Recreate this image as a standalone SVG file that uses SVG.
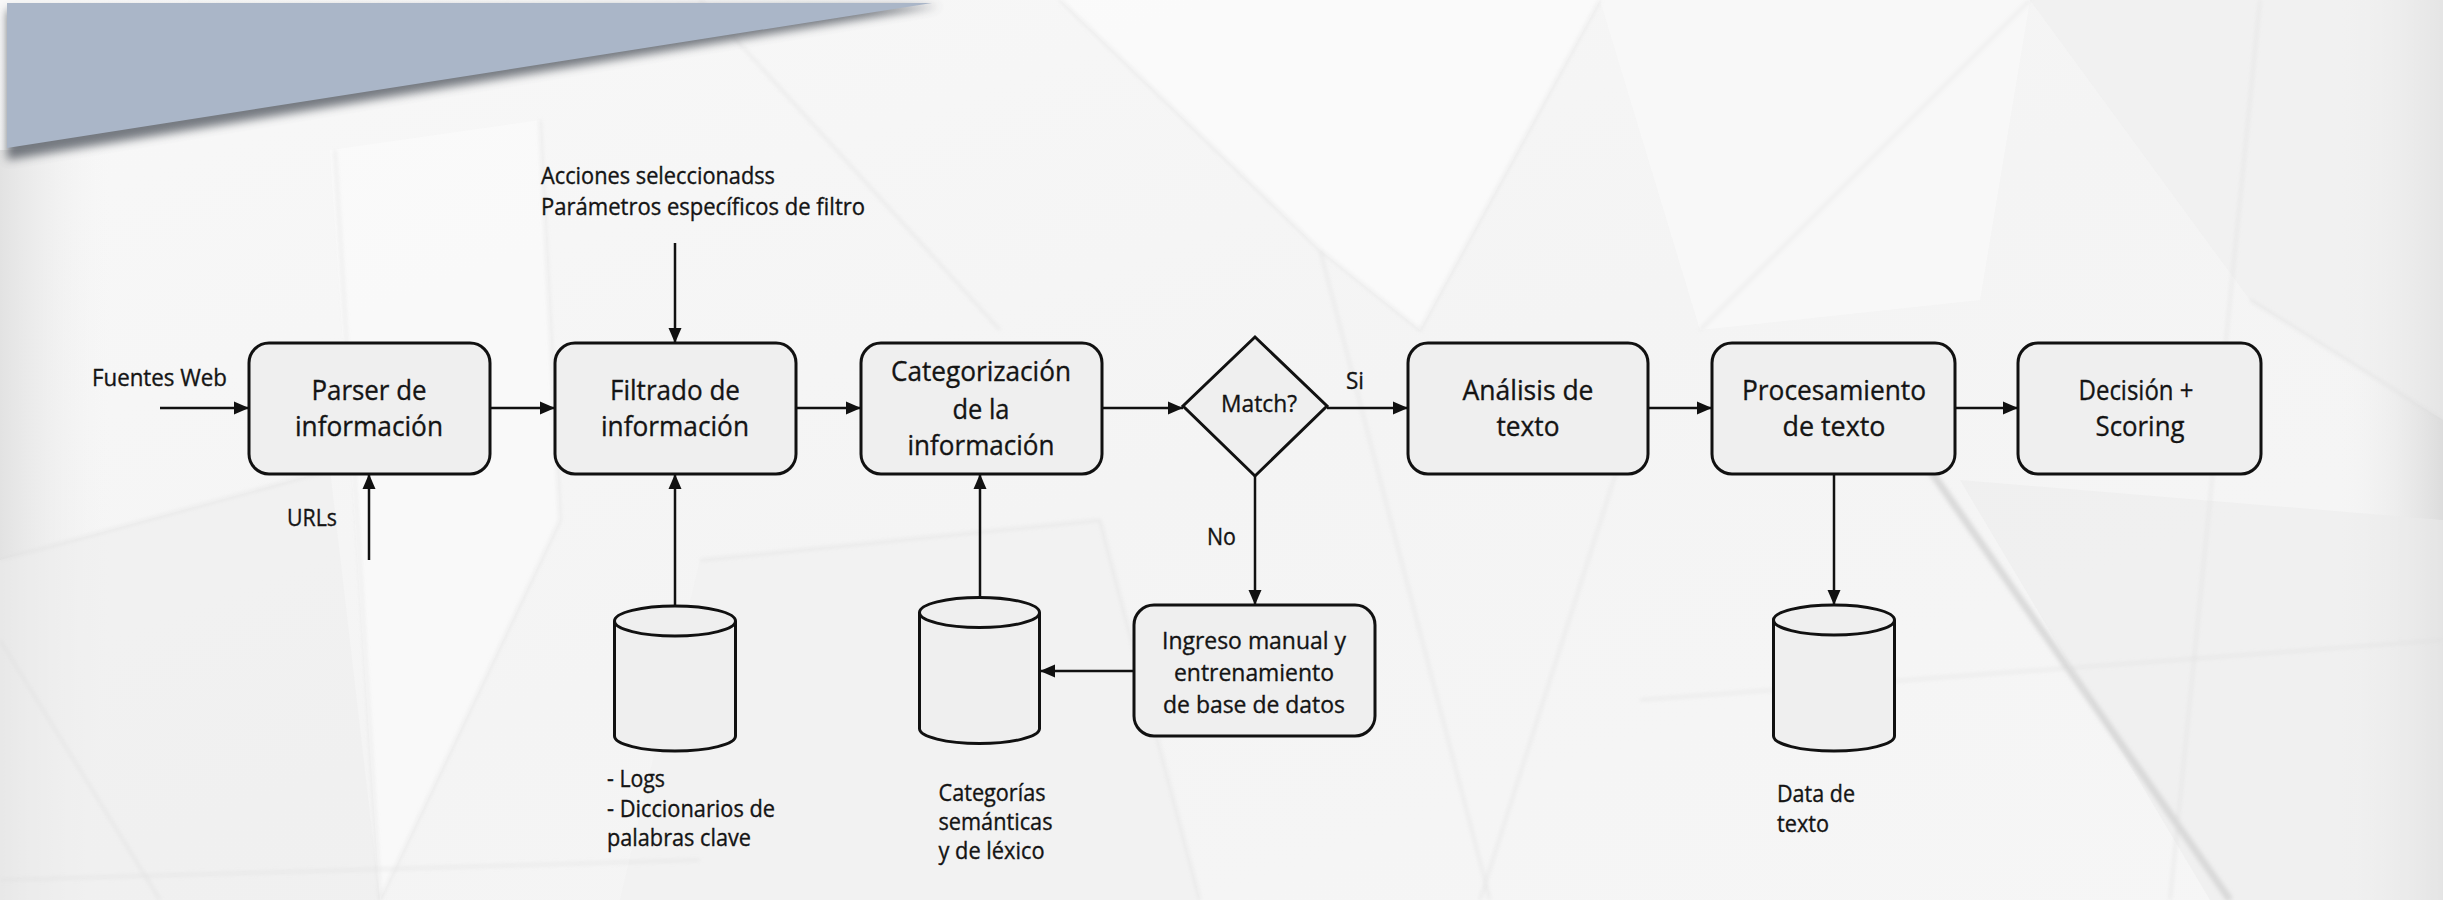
<svg xmlns="http://www.w3.org/2000/svg" width="2443" height="900" viewBox="0 0 2443 900">
  <defs>
    <style>
      text { font-family: "Open Sans", Lato, "Liberation Sans", sans-serif; fill: #141414; stroke: #141414; stroke-width: 0.35; }
      .box { fill: #efefef; stroke: #111; stroke-width: 3; }
      .t { font-size: 28px; text-anchor: middle; }
      .l { font-size: 23px; }
      .c { stroke: #111; stroke-width: 2.5; fill: none; marker-end: url(#ah); }
      .facet { fill: none; stroke: #dcdcdc; stroke-width: 1.5; }
    </style>
    <marker id="ah" viewBox="0 0 15 14" refX="15" refY="7" markerWidth="15" markerHeight="14" markerUnits="userSpaceOnUse" orient="auto">
      <path d="M0,0.5 L15,7 L0,13.5 z" fill="#111"/>
    </marker>
    <linearGradient id="bgGrad" x1="0" y1="0" x2="1" y2="1">
      <stop offset="0" stop-color="#f8f8f8"/>
      <stop offset="0.5" stop-color="#f4f4f4"/>
      <stop offset="1" stop-color="#f6f6f6"/>
    </linearGradient>
    <linearGradient id="leftShade" x1="0" y1="0" x2="1" y2="0">
      <stop offset="0" stop-color="#e2e2e2"/>
      <stop offset="1" stop-color="#f3f3f3" stop-opacity="0"/>
    </linearGradient>
    <linearGradient id="rightShade" x1="0" y1="0" x2="1" y2="0">
      <stop offset="0" stop-color="#f3f3f3" stop-opacity="0"/>
      <stop offset="1" stop-color="#dcdcdc"/>
    </linearGradient>
    <filter id="blur6" x="-10%" y="-10%" width="120%" height="140%">
      <feGaussianBlur stdDeviation="5"/>
    </filter>
    <filter id="blur2" x="-10%" y="-10%" width="120%" height="120%">
      <feGaussianBlur stdDeviation="2"/>
    </filter>
  </defs>

  <!-- faceted backdrop -->
  <g id="background">
    <rect x="0" y="0" width="2443" height="900" fill="url(#bgGrad)"/>
    <rect x="0" y="150" width="110" height="750" fill="url(#leftShade)"/>
    <rect x="2340" y="0" width="103" height="900" fill="url(#rightShade)"/>
    <polygon points="0,560 330,470 380,900 0,900" fill="#ececec" opacity="0.55"/>
    <polygon points="330,150 540,120 560,520 380,900 360,600" fill="#fafafa" opacity="0.8"/>
    <polygon points="1060,0 1600,0 1420,330 1320,250" fill="#fbfbfb" opacity="0.8"/>
    <polygon points="1960,480 2443,520 2443,900 2210,900" fill="#ebebeb" opacity="0.55"/>
    <polygon points="1600,0 2030,0 1980,300 1700,330" fill="#f9f9f9" opacity="0.8"/>
    <polygon points="2030,0 2443,0 2443,420 2250,300" fill="#eeeeee" opacity="0.5"/>
    <polygon points="700,560 1100,520 1200,900 620,900" fill="#f0f0f0" opacity="0.5"/>
    <g filter="url(#blur2)" opacity="0.85">
      <path class="facet" d="M335,150 L380,900"/>
      <path class="facet" d="M540,120 L560,520 L380,900"/>
      <path class="facet" d="M0,560 L330,470"/>
      <path class="facet" d="M0,640 L160,900"/>
      <path class="facet" d="M700,0 L1000,330"/>
      <path class="facet" d="M1060,0 L1320,250 L1420,330 L1600,0"/>
      <path class="facet" d="M1320,250 L1490,900"/>
      <path class="facet" d="M1620,460 L1480,900"/>
      <path class="facet" d="M1700,330 L2030,0"/>
      <path class="facet" d="M2250,300 L2443,420"/>
      <path class="facet" d="M2260,0 L2170,900"/>
      <path class="facet" d="M1640,700 L2443,640"/>
      <path class="facet" d="M0,880 L700,860"/>
      <path class="facet" d="M1100,520 L1200,900"/>
      <path class="facet" d="M700,560 L1100,520"/>
      <path d="M1930,470 L2230,900" stroke="#d4d4d4" stroke-width="7" fill="none"/>
    </g>
  </g>

  <!-- slanted banner in the top-left corner -->
  <g id="banner">
    <polygon points="7,10 940,6 7,160" fill="#4a4f58" opacity="0.75" filter="url(#blur6)"/>
    <polygon points="7,3 932,3 7,148" fill="#aab6c8"/>
  </g>

  <!-- connectors -->
  <g id="connectors">
    <path class="c" d="M160,408 H249"/>
    <path class="c" d="M369,560 V474"/>
    <path class="c" d="M490,408 H555"/>
    <path class="c" d="M675,243 V343"/>
    <path class="c" d="M675,606 V474"/>
    <path class="c" d="M796,408 H861"/>
    <path class="c" d="M980,598 V474"/>
    <path class="c" d="M1102,408 H1183"/>
    <path class="c" d="M1327,408 H1408"/>
    <path class="c" d="M1255,476 V605"/>
    <path class="c" d="M1134,671 H1040"/>
    <path class="c" d="M1648,408 H1712"/>
    <path class="c" d="M1955,408 H2018"/>
    <path class="c" d="M1834,474 V605"/>
  </g>

  <!-- edge labels and inputs -->
  <g id="labels">
    <text class="l" x="92" y="386" textLength="135" lengthAdjust="spacingAndGlyphs">Fuentes Web</text>
    <text class="l" x="287" y="526" textLength="50" lengthAdjust="spacingAndGlyphs">URLs</text>
    <text class="l" x="541" y="184" textLength="234" lengthAdjust="spacingAndGlyphs">Acciones seleccionadss</text>
    <text class="l" x="541" y="215" textLength="324" lengthAdjust="spacingAndGlyphs">Parámetros específicos de filtro</text>
    <text class="l" x="1346" y="389" textLength="18" lengthAdjust="spacingAndGlyphs">Si</text>
    <text class="l" x="1207" y="545" textLength="29" lengthAdjust="spacingAndGlyphs">No</text>
  </g>

  <g id="parser">
    <rect class="box" x="249" y="343" width="241" height="131" rx="20"/>
    <text class="t" x="369" y="400" textLength="115" lengthAdjust="spacingAndGlyphs">Parser de</text>
    <text class="t" x="369" y="436" textLength="148" lengthAdjust="spacingAndGlyphs">información</text>
  </g>

  <g id="filtrado">
    <rect class="box" x="555" y="343" width="241" height="131" rx="20"/>
    <text class="t" x="675" y="400" textLength="130" lengthAdjust="spacingAndGlyphs">Filtrado de</text>
    <text class="t" x="675" y="436" textLength="148" lengthAdjust="spacingAndGlyphs">información</text>
  </g>

  <g id="categorizacion">
    <rect class="box" x="861" y="343" width="241" height="131" rx="20"/>
    <text class="t" x="981" y="381" textLength="180" lengthAdjust="spacingAndGlyphs">Categorización</text>
    <text class="t" x="981" y="419" textLength="57" lengthAdjust="spacingAndGlyphs">de la</text>
    <text class="t" x="981" y="455" textLength="147" lengthAdjust="spacingAndGlyphs">información</text>
  </g>

  <g id="match">
    <polygon class="box" points="1255,337 1327,406 1255,476 1183,406"/>
    <text class="t" x="1259" y="412" style="font-size:24px" textLength="76" lengthAdjust="spacingAndGlyphs">Match?</text>
  </g>

  <g id="analisis">
    <rect class="box" x="1408" y="343" width="240" height="131" rx="20"/>
    <text class="t" x="1528" y="400" textLength="131" lengthAdjust="spacingAndGlyphs">Análisis de</text>
    <text class="t" x="1528" y="436" textLength="63" lengthAdjust="spacingAndGlyphs">texto</text>
  </g>

  <g id="procesamiento">
    <rect class="box" x="1712" y="343" width="243" height="131" rx="20"/>
    <text class="t" x="1834" y="400" textLength="184" lengthAdjust="spacingAndGlyphs">Procesamiento</text>
    <text class="t" x="1834" y="436" textLength="103" lengthAdjust="spacingAndGlyphs">de texto</text>
  </g>

  <g id="decision">
    <rect class="box" x="2018" y="343" width="243" height="131" rx="20"/>
    <text class="t" x="2136" y="400" textLength="115" lengthAdjust="spacingAndGlyphs">Decisión +</text>
    <text class="t" x="2140" y="436" textLength="89" lengthAdjust="spacingAndGlyphs">Scoring</text>
  </g>

  <g id="ingreso">
    <rect class="box" x="1134" y="605" width="241" height="131" rx="20"/>
    <text class="t" x="1254" y="649" style="font-size:24px" textLength="184" lengthAdjust="spacingAndGlyphs">Ingreso manual y</text>
    <text class="t" x="1254" y="681" style="font-size:24px" textLength="160" lengthAdjust="spacingAndGlyphs">entrenamiento</text>
    <text class="t" x="1254" y="713" style="font-size:24px" textLength="182" lengthAdjust="spacingAndGlyphs">de base de datos</text>
  </g>

  <g id="db-logs">
    <path class="box" d="M614.5,621 V736 A60.5,15 0 0 0 735.5,736 V621"/>
    <ellipse class="box" cx="675" cy="621" rx="60.5" ry="15"/>
    <text class="l" x="607" y="787" textLength="58" lengthAdjust="spacingAndGlyphs">- Logs</text>
    <text class="l" x="607" y="817" textLength="168" lengthAdjust="spacingAndGlyphs">- Diccionarios de</text>
    <text class="l" x="607" y="846" textLength="144" lengthAdjust="spacingAndGlyphs">palabras clave</text>
  </g>

  <g id="db-categorias">
    <path class="box" d="M919.5,612.5 V728.5 A60,15 0 0 0 1039.5,728.5 V612.5"/>
    <ellipse class="box" cx="979.5" cy="612.5" rx="60" ry="15"/>
    <text class="l" x="938.5" y="801" textLength="107" lengthAdjust="spacingAndGlyphs">Categorías</text>
    <text class="l" x="938.5" y="830" textLength="114" lengthAdjust="spacingAndGlyphs">semánticas</text>
    <text class="l" x="938.5" y="859" textLength="106" lengthAdjust="spacingAndGlyphs">y de léxico</text>
  </g>

  <g id="db-texto">
    <path class="box" d="M1773.5,620 V736 A60.5,15 0 0 0 1894.5,736 V620"/>
    <ellipse class="box" cx="1834" cy="620" rx="60.5" ry="15"/>
    <text class="l" x="1777" y="802" textLength="78" lengthAdjust="spacingAndGlyphs">Data de</text>
    <text class="l" x="1777" y="832" textLength="52" lengthAdjust="spacingAndGlyphs">texto</text>
  </g>
</svg>
